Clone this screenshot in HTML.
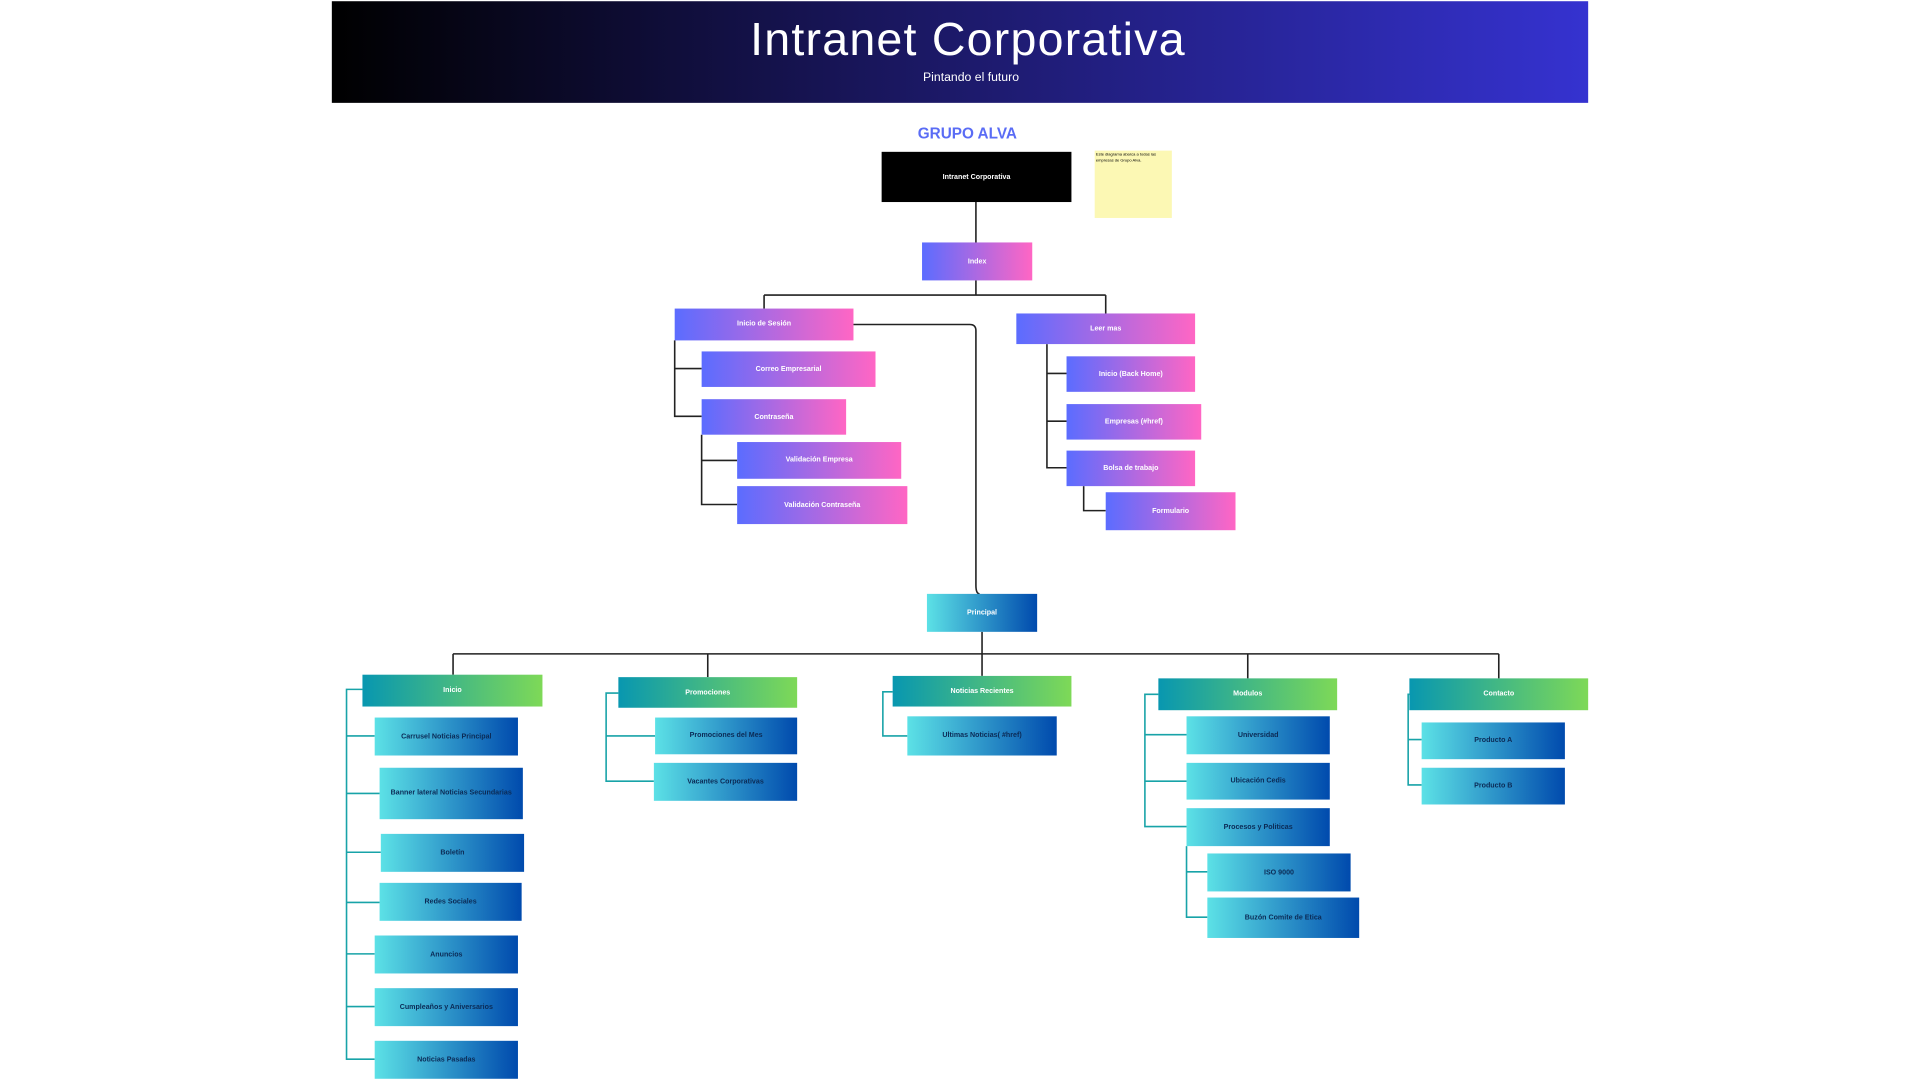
<!DOCTYPE html>
<html><head><meta charset="utf-8"><style>
html,body{margin:0;padding:0;width:1920px;height:1080px;overflow:hidden;background:#fff;font-family:"Liberation Sans",sans-serif}
#s{position:absolute;left:0;top:0;width:1568px;height:882px;transform:scale(1.22449);transform-origin:0 0}
.b{position:absolute;display:flex;align-items:center;justify-content:center;font-size:5.8px;text-align:center;font-weight:bold}
.p{background:linear-gradient(90deg,#5b6cff,#ff66c4);color:#fff}
.g{background:linear-gradient(90deg,#0897b0,#7ed957);color:#fff}
.c{background:linear-gradient(90deg,#5ce1e6,#004aad);color:#0b2a55}
svg{position:absolute;left:0;top:0}
</style></head><body><div id="s">
<div style="position:absolute;left:271px;top:1px;width:1026px;height:83px;background:linear-gradient(90deg,#000 0%,#1a1760 45%,#3532d0 100%)"></div>
<div style="position:absolute;left:271px;width:1039px;top:12px;text-align:center;color:#fff;font-size:38px;letter-spacing:1px">Intranet Corporativa</div>
<div style="position:absolute;left:271px;width:1044px;top:58px;text-align:center;color:#fff;font-size:10px">Pintando el futuro</div>
<div style="position:absolute;left:690px;width:200px;top:102px;text-align:center;color:#5a6cf5;font-size:12.5px;font-weight:bold">GRUPO ALVA</div>
<div class="b" style="left:720px;top:124px;width:155px;height:41px;background:#000;color:#fff;font-weight:bold">Intranet Corporativa</div>
<div style="position:absolute;left:894px;top:123px;width:63px;height:55px;background:#fcf8b4;font-size:3.3px;line-height:5px;padding:1px;box-sizing:border-box">Este diagrama abarca a todas las empresas de Grupo Alva.</div>
<svg width="1568" height="882" fill="none" stroke-width="1.3">
<g stroke="#222">
<path d="M797 165V198M797 229V241M624 241H903M624 241V252M903 241V256"/>
<path d="M697 265H792Q797 265 797 270V478Q797 485 800 485"/>
<path d="M551 278V340H573M551 301H573M573 355V412H602M573 376H602"/>
<path d="M855 281V382H871M855 305H871M855 344H871M885 397V417H903"/>
<path d="M802 516V534M370 534H1224M370 534V551M578 534V553M802 534V552M1019 534V554M1224 534V554"/>
</g>
<g stroke="#18a3a8">
<path d="M296 563H283V865H306M283 601H306M283 648H310M283 696H311M283 737H310M283 779H306M283 822H306"/>
<path d="M505 566H495V638H534M495 601H535"/>
<path d="M729 565H721V601H741"/>
<path d="M946 567H935V675H969M935 600H969M935 638H969M969 691V749H986M969 712H986"/>
<path d="M1151 567H1150V641H1161M1150 604H1161"/>
</g>
</svg>
<div class="b p" style="left:753px;top:198px;width:90px;height:31px">Index</div>
<div class="b p" style="left:551px;top:252px;width:146px;height:26px">Inicio de Sesión</div>
<div class="b p" style="left:830px;top:256px;width:146px;height:25px">Leer mas</div>
<div class="b p" style="left:573px;top:287px;width:142px;height:29px">Correo Empresarial</div>
<div class="b p" style="left:573px;top:326px;width:118px;height:29px">Contraseña</div>
<div class="b p" style="left:602px;top:361px;width:134px;height:30px">Validación Empresa</div>
<div class="b p" style="left:602px;top:397px;width:139px;height:31px">Validación Contraseña</div>
<div class="b p" style="left:871px;top:291px;width:105px;height:29px">Inicio (Back Home)</div>
<div class="b p" style="left:871px;top:330px;width:110px;height:29px">Empresas (#href)</div>
<div class="b p" style="left:871px;top:368px;width:105px;height:29px">Bolsa de trabajo</div>
<div class="b p" style="left:903px;top:402px;width:106px;height:31px">Formulario</div>
<div class="b c" style="left:757px;top:485px;width:90px;height:31px;color:#fff">Principal</div>
<div class="b g" style="left:296px;top:551px;width:147px;height:26px">Inicio</div>
<div class="b g" style="left:505px;top:553px;width:146px;height:25px">Promociones</div>
<div class="b g" style="left:729px;top:552px;width:146px;height:25px">Noticias Recientes</div>
<div class="b g" style="left:946px;top:554px;width:146px;height:26px">Modulos</div>
<div class="b g" style="left:1151px;top:554px;width:146px;height:26px">Contacto</div>
<div class="b c" style="left:306px;top:586px;width:117px;height:31px">Carrusel Noticias Principal</div>
<div class="b c" style="left:310px;top:627px;width:117px;height:42px">Banner lateral Noticias Secundarias</div>
<div class="b c" style="left:311px;top:681px;width:117px;height:31px">Boletín</div>
<div class="b c" style="left:310px;top:721px;width:116px;height:31px">Redes Sociales</div>
<div class="b c" style="left:306px;top:764px;width:117px;height:31px">Anuncios</div>
<div class="b c" style="left:306px;top:807px;width:117px;height:31px">Cumpleaños y Aniversarios</div>
<div class="b c" style="left:306px;top:850px;width:117px;height:31px">Noticias Pasadas</div>
<div class="b c" style="left:535px;top:586px;width:116px;height:30px">Promociones del Mes</div>
<div class="b c" style="left:534px;top:623px;width:117px;height:31px">Vacantes Corporativas</div>
<div class="b c" style="left:741px;top:585px;width:122px;height:32px">Ultimas Noticias( #href)</div>
<div class="b c" style="left:969px;top:585px;width:117px;height:31px">Universidad</div>
<div class="b c" style="left:969px;top:623px;width:117px;height:30px">Ubicación Cedis</div>
<div class="b c" style="left:969px;top:660px;width:117px;height:31px">Procesos y Politicas</div>
<div class="b c" style="left:986px;top:697px;width:117px;height:31px">ISO 9000</div>
<div class="b c" style="left:986px;top:733px;width:124px;height:33px">Buzón Comite de Etica</div>
<div class="b c" style="left:1161px;top:590px;width:117px;height:30px">Producto A</div>
<div class="b c" style="left:1161px;top:627px;width:117px;height:30px">Producto B</div>
</div></body></html>
